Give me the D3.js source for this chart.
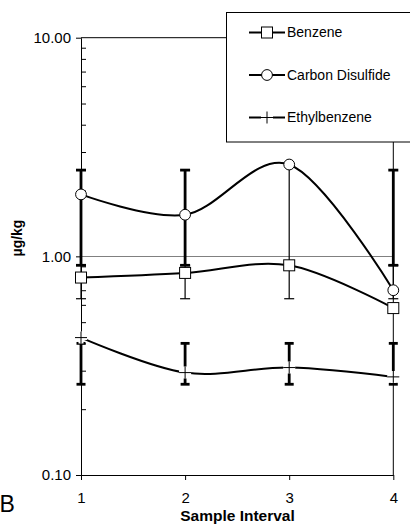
<!DOCTYPE html>
<html>
<head>
<meta charset="utf-8">
<script src="https://cdn.jsdelivr.net/npm/d3@7"></script>
<style>
  html, body { margin: 0; padding: 0; background: #fff; }
  svg { display: block; font-family: "Liberation Sans", Arial, sans-serif; }
</style>
</head>
<body>
<svg id="chart" width="410" height="524"></svg>
<script>
// ---- data ----
const categories = [1, 2, 3, 4];
const yTickValues = [0.1, 1, 10];
const seriesNames = ["Benzene", "Carbon Disulfide", "Ethylbenzene"];
const benzene = [0.80, 0.84, 0.91, 0.58];
const carbonDisulfide = [1.92, 1.55, 2.63, 0.70];
const ethylbenzene = [0.425, 0.294, 0.31, 0.281];
// error bar ranges (low / high)
const benzeneLow = [0.64, 0.64, 0.64, 0.64];
const benzeneHigh = [0.91, 0.91, 2.63, 0.91];
const carbonDisulfideLow = [0.91, 0.91, null, 0.91];
const carbonDisulfideHigh = [2.48, 2.48, null, 2.48];
const ethylbenzeneLow = [0.26, 0.26, 0.26, 0.26];
const ethylbenzeneHigh = [0.40, 0.40, 0.40, 0.40];

const svg = d3.select("#chart");
const x = d3.scaleLinear().domain([1, 4]).range([81, 393.3]);
const y = d3.scaleLog().domain([0.1, 10]).range([475, 37.7]);

// gridline at 1.00
svg.append("line")
  .attr("x1", x(1)).attr("x2", x(4))
  .attr("y1", Math.round(y(1)) + 0.5).attr("y2", Math.round(y(1)) + 0.5)
  .attr("stroke", "#808080").attr("stroke-width", 1);

// frame (top & right)
svg.append("path")
  .attr("d", `M${x(1)},${y(10)}H${x(4)}V${y(0.1)}`)
  .attr("fill", "none").attr("stroke", "#000").attr("stroke-width", 1);

// minor ticks (inside)
const minors = [];
[0.1, 1].forEach(d => { for (let k = 2; k <= 9; k++) minors.push(+(d * k).toFixed(3)); });
svg.append("g").attr("transform", `translate(${x(1)},0)`)
  .call(d3.axisRight(y).tickValues(minors).tickSize(5).tickSizeOuter(0).tickFormat(""))
  .call(g => g.select(".domain").remove())
  .selectAll("line").attr("stroke", "#000");

// y axis
svg.append("g").attr("transform", `translate(${x(1)},0)`)
  .call(d3.axisLeft(y).tickValues(yTickValues).tickSize(5).tickSizeOuter(0)
        .tickPadding(5).tickFormat(d3.format(".2f")))
  .call(g => g.selectAll("text").attr("font-size", 15).attr("fill", "#000")
        .attr("font-family", "Liberation Sans, Arial, sans-serif"))
  .call(g => g.selectAll("line,path").attr("stroke", "#000"));

// x axis
svg.append("g").attr("transform", `translate(0,${y(0.1)})`)
  .call(d3.axisBottom(x).tickValues(categories).tickSize(5).tickSizeOuter(0)
        .tickPadding(12).tickFormat(d3.format("d")))
  .call(g => g.selectAll("text").attr("font-size", 15).attr("fill", "#000")
        .attr("font-family", "Liberation Sans, Arial, sans-serif"))
  .call(g => g.selectAll("line,path").attr("stroke", "#000"));

// axis titles
svg.append("text").attr("x", 237.5).attr("y", 521).attr("text-anchor", "middle")
  .attr("font-size", 15.5).attr("font-weight", "bold").text("Sample Interval");
svg.append("text").attr("transform", "translate(22,238) rotate(-90)")
  .attr("text-anchor", "middle").attr("font-size", 14).attr("font-weight", "bold").text("µg/kg");
svg.append("text").attr("x", -0.5).attr("y", 512).attr("font-size", 23).text("B");

// error bars
function errorBars(low, high, width, capHalf) {
  const g = svg.append("g");
  categories.forEach((c, i) => {
    if (low[i] == null || high[i] == null) return;
    const cx = x(c);
    g.append("line").attr("x1", cx).attr("x2", cx).attr("y1", y(low[i])).attr("y2", y(high[i]))
      .attr("stroke", "#000").attr("stroke-width", width);
    [low[i], high[i]].forEach(v => {
      g.append("line").attr("x1", cx - capHalf).attr("x2", cx + capHalf)
        .attr("y1", y(v)).attr("y2", y(v)).attr("stroke", "#000").attr("stroke-width", width);
    });
  });
}
errorBars(benzeneLow, benzeneHigh, 1.2, 5);
errorBars(carbonDisulfideLow, carbonDisulfideHigh, 2.8, 5);
errorBars(ethylbenzeneLow, ethylbenzeneHigh, 2.8, 4.5);

// lines
const line = d3.line().x((d, i) => x(categories[i])).y(d => y(d)).curve(d3.curveCatmullRom.alpha(0));
[benzene, carbonDisulfide, ethylbenzene].forEach(s => {
  svg.append("path").attr("d", line(s)).attr("fill", "none")
    .attr("stroke", "#000").attr("stroke-width", 2);
});

// markers
function marker(g, type, cx, cy) {
  if (type === "square") {
    g.append("rect").attr("x", cx - 5.5).attr("y", cy - 5.5).attr("width", 11).attr("height", 11)
      .attr("fill", "#fff").attr("stroke", "#000").attr("stroke-width", 1);
  } else if (type === "circle") {
    g.append("circle").attr("cx", cx).attr("cy", cy).attr("r", 5.4)
      .attr("fill", "#fff").attr("stroke", "#000").attr("stroke-width", 1);
  } else {
    const d = `M${cx - 6},${cy}H${cx + 6}M${cx},${cy - 6}V${cy + 6}`;
    g.append("path").attr("d", d).attr("stroke", "#fff").attr("stroke-width", 5);
    g.append("path").attr("d", d).attr("stroke", "#000").attr("stroke-width", 1);
  }
}
const mg = svg.append("g");
const types = ["square", "circle", "plus"];
[benzene, carbonDisulfide, ethylbenzene].forEach((s, k) => {
  s.forEach((v, i) => marker(mg, types[k], x(categories[i]), y(v)));
});

// legend
const lg = svg.append("g");
lg.append("rect").attr("x", 226.5).attr("y", 12.5).attr("width", 200).attr("height", 129.5)
  .attr("fill", "#fff").attr("stroke", "#000").attr("stroke-width", 1);
const legendY = [32.5, 75, 117.5];
seriesNames.forEach((name, k) => {
  const ly = legendY[k];
  lg.append("line").attr("x1", 249).attr("x2", 285).attr("y1", ly).attr("y2", ly)
    .attr("stroke", "#000").attr("stroke-width", 2);
  marker(lg, types[k], 267, ly);
  lg.append("text").attr("x", 287).attr("y", ly).attr("dy", "0.35em")
    .attr("font-size", 14).attr("fill", "#000").text(name);
});
</script>
</body>
</html>
